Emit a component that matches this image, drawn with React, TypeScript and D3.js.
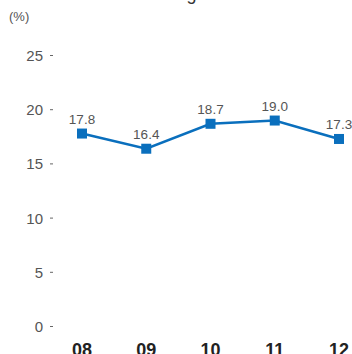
import React from "react";
import * as d3 from "d3";

const categories = ["08", "09", "10", "11", "12"];
const values = [17.8, 16.4, 18.7, 19.0, 17.3];
const yTicks = [0, 5, 10, 15, 20, 25];
const title = "Margin";
const unitLabel = "(%)";

export default function App() {
  const width = 352;
  const height = 354;
  const x = d3.scalePoint<string>().domain(categories).range([82, 339]);
  const y = d3.scaleLinear().domain([0, 25]).range([326.5, 55.5]);
  const line = d3
    .line<number>()
    .x((_, i) => x(categories[i]) as number)
    .y((d) => y(d));
  const font = "'Liberation Sans', Arial, Helvetica, sans-serif";
  return (
    <svg
      width={width}
      height={height}
      style={{ position: "absolute", left: 0, top: 0, background: "#fff" }}
      fontFamily={font}
    >
      <text x={183} y={-0.5} textAnchor="middle" fontSize={18} fill="#333">
        {title}
      </text>
      <text x={9} y={21} fontSize={13} fill="#555">
        {unitLabel}
      </text>
      {yTicks.map((t) => (
        <g key={t}>
          <text x={43} y={y(t) + 5.5} textAnchor="end" fontSize={15} fill="#555">
            {t}
          </text>
          <line x1={50} x2={53} y1={y(t)} y2={y(t)} stroke="#666" strokeWidth={1} />
        </g>
      ))}
      <path d={line(values) || ""} fill="none" stroke="#0a6fbd" strokeWidth={2.6} />
      {values.map((v, i) => (
        <rect
          key={i}
          x={(x(categories[i]) as number) - 5}
          y={y(v) - 5}
          width={10}
          height={10}
          fill="#0a6fbd"
        />
      ))}
      {values.map((v, i) => (
        <text
          key={"l" + i}
          x={x(categories[i]) as number}
          y={y(v) - 10}
          textAnchor="middle"
          fontSize={13.5}
          fill="#555"
        >
          {v.toFixed(1)}
        </text>
      ))}
      {categories.map((c) => (
        <text
          key={c}
          x={x(c) as number}
          y={356}
          textAnchor="middle"
          fontSize={18}
          fontWeight="bold"
          fill="#222"
        >
          {c}
        </text>
      ))}
    </svg>
  );
}
